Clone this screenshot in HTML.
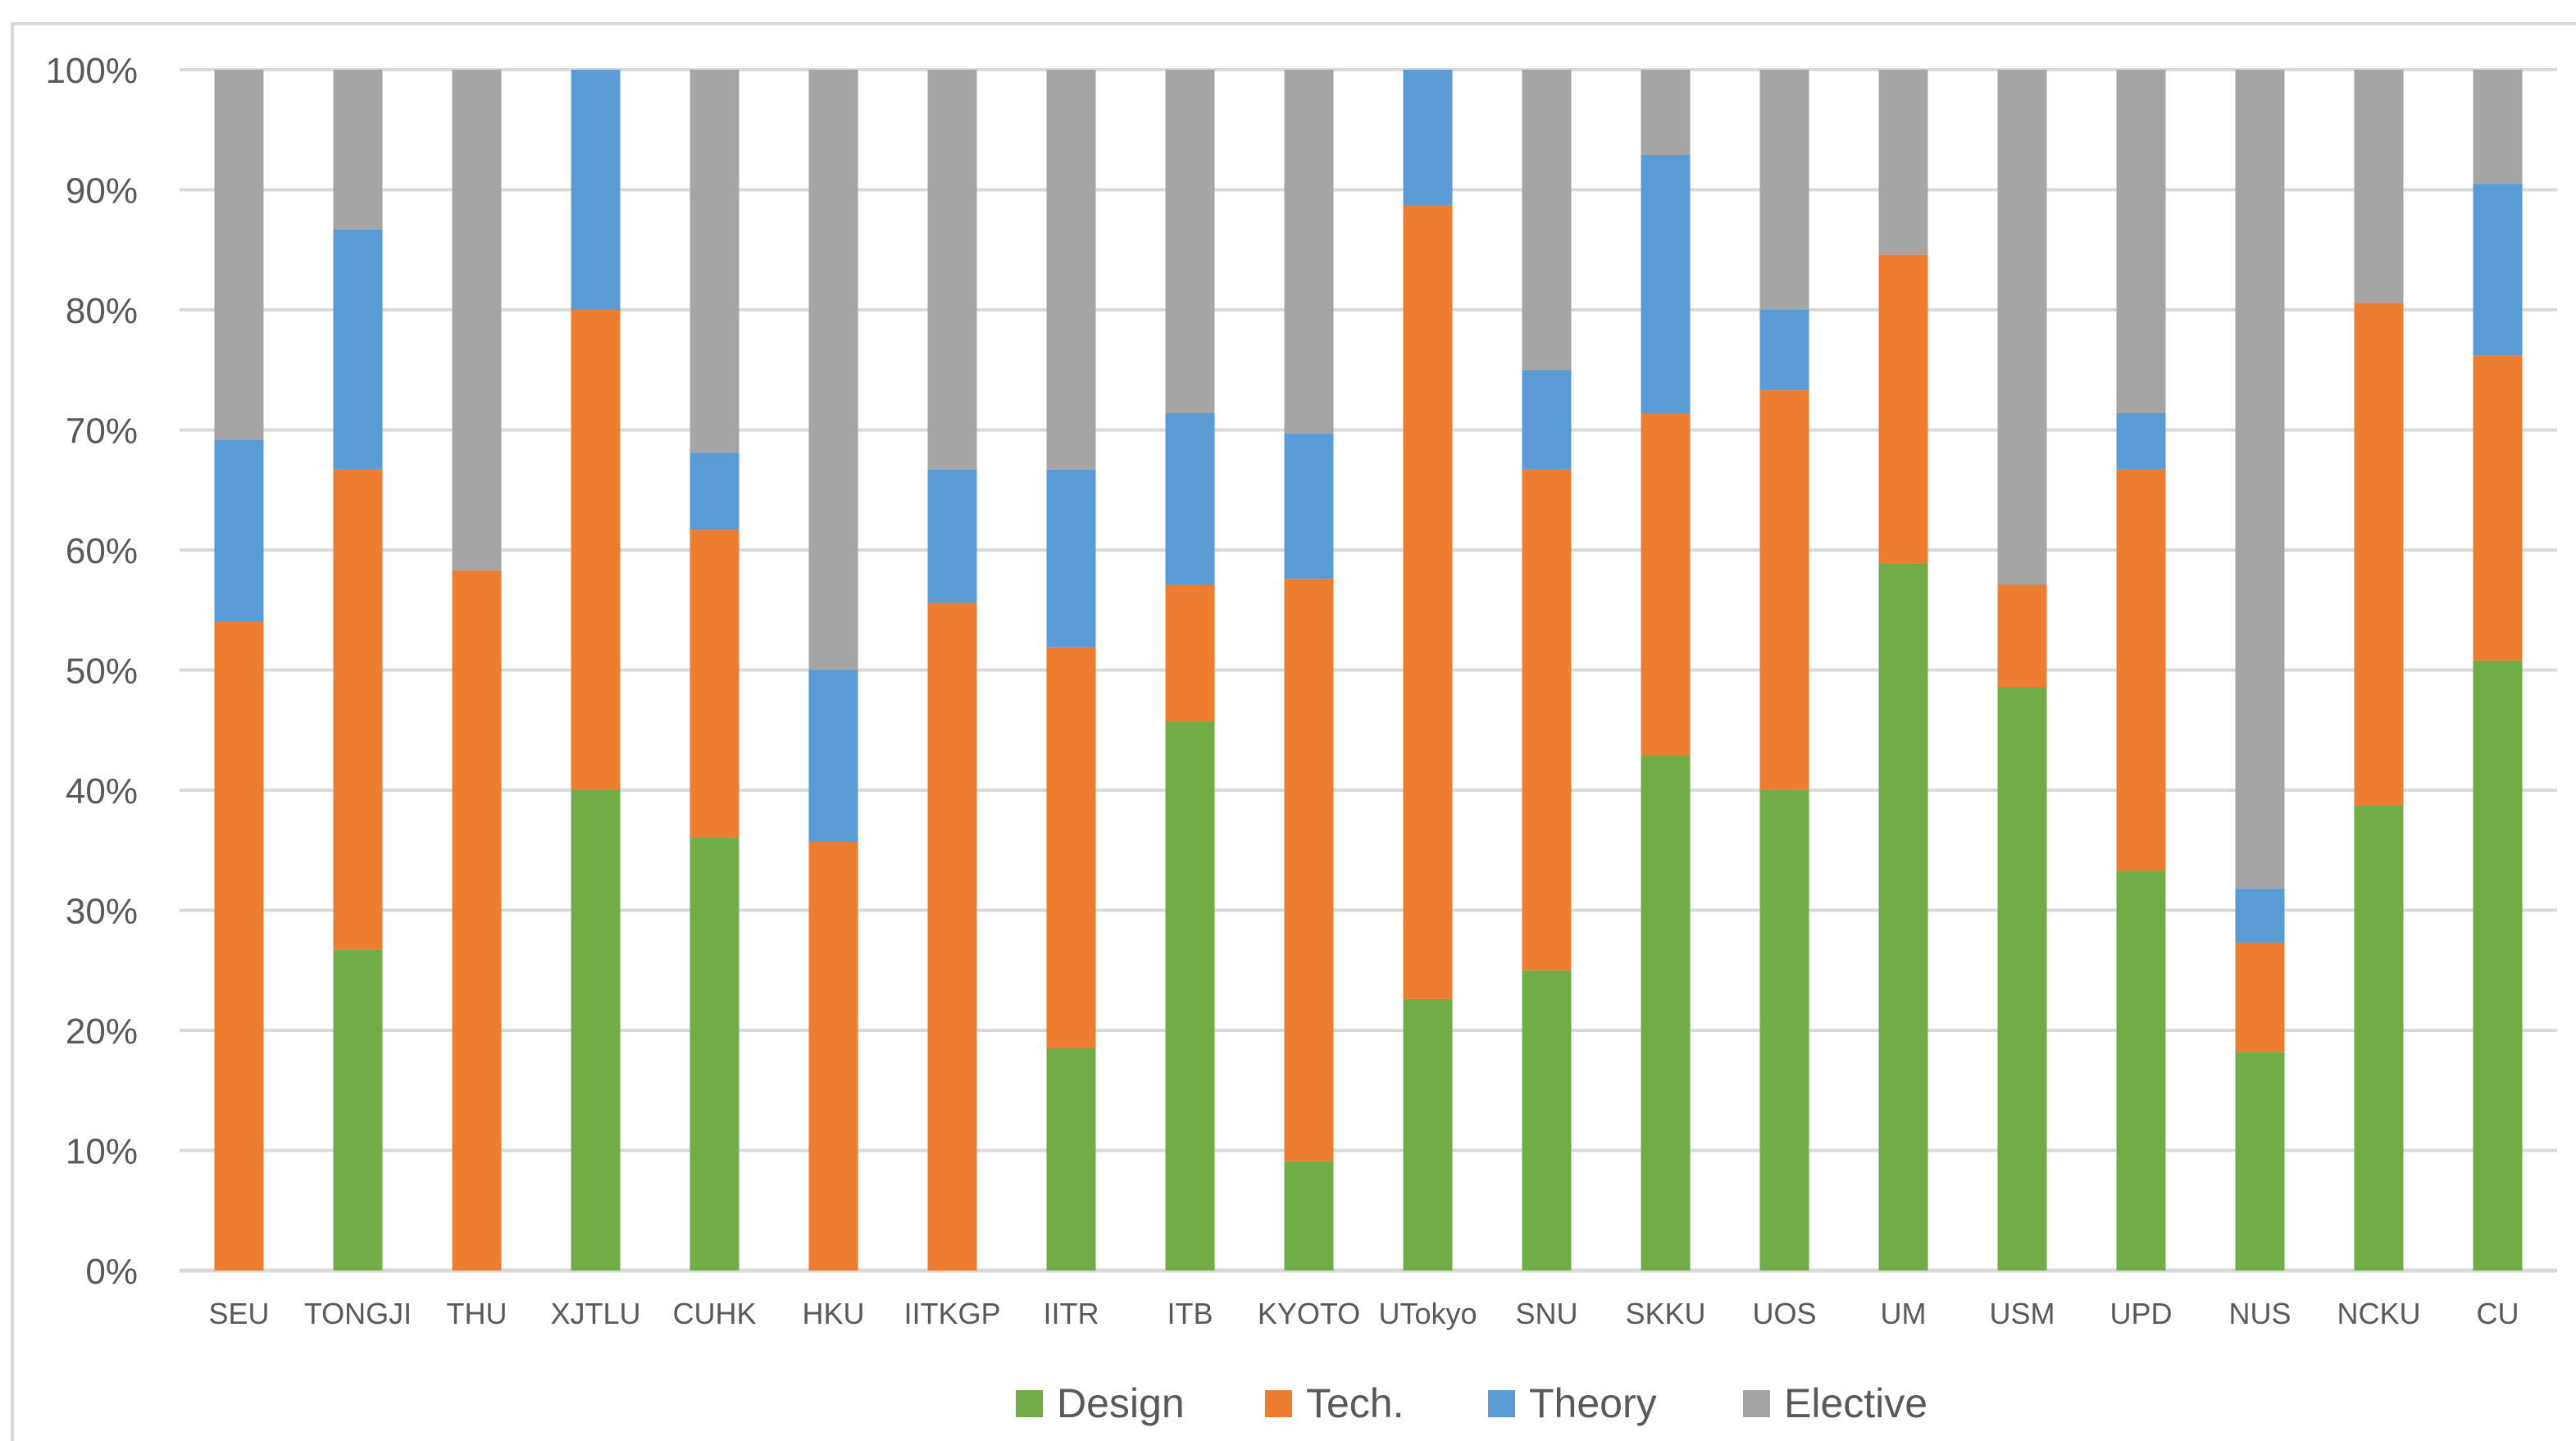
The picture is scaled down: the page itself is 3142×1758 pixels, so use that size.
<!DOCTYPE html>
<html><head><meta charset="utf-8"><style>
html,body{margin:0;padding:0;background:#fff;}
svg{display:block;font-family:"Liberation Sans",sans-serif;}
</style></head><body>
<svg id="chart" width="3142" height="1758" xmlns="http://www.w3.org/2000/svg">
<rect x="15" y="29" width="3140" height="1740" fill="#fff" stroke="#d9d9d9" stroke-width="4"/>
<g id="grid"></g><g id="bars"></g><g id="labels"></g><g id="legend"></g>
</svg>
<script>
const categories=["SEU","TONGJI","THU","XJTLU","CUHK","HKU","IITKGP","IITR","ITB","KYOTO","UTokyo","SNU","SKKU","UOS","UM","USM","UPD","NUS","NCKU","CU"];
const design=[0,26.7,0,40,36.1,0,0,18.5,45.7,9.1,22.6,25,42.9,40,58.9,48.6,33.3,18.2,38.7,50.8];
const tech=[54,40,58.3,40,25.6,35.7,55.6,33.4,11.4,48.5,66.1,41.7,28.5,33.3,25.7,8.5,33.4,9.1,41.9,25.4];
const theory=[15.2,20,0,20,6.4,14.3,11.1,14.8,14.3,12.1,11.3,8.3,21.5,6.7,0,0,4.7,4.5,0,14.3];
const elective=[30.8,13.3,41.7,0,31.9,50,33.3,33.3,28.6,30.3,0,25,7.1,20,15.4,42.9,28.6,68.2,19.4,9.5];
const yTicks=[0,10,20,30,40,50,60,70,80,90,100];
const seriesNames=["Design","Tech.","Theory","Elective"];
const colors=["#70ad47","#ed7d31","#5b9bd5","#a5a5a5"];
const NS="http://www.w3.org/2000/svg";
const x0=219,step=145,barW=60,yBase=1550,yTop=85;
const y=v=>yBase-(v/100)*(yBase-yTop);
const xc=i=>x0+step*(i+0.5);
function mk(tag,attrs,parent){const e=document.createElementNS(NS,tag);for(const k in attrs)e.setAttribute(k,attrs[k]);parent.appendChild(e);return e;}
const grid=document.getElementById('grid'),bars=document.getElementById('bars'),labels=document.getElementById('labels'),legend=document.getElementById('legend');
yTicks.forEach(t=>{
  const l=mk('line',{x1:x0,x2:x0+step*categories.length,y1:y(t),y2:y(t),stroke:'#d9d9d9','stroke-width':t===0?5:4},grid);
  
  
  const tx=mk('text',{x:168,y:y(t)+16,'text-anchor':'end','font-size':44,fill:'#595959'},labels);
  tx.textContent=t+'%';
  
  
});
const series=[design,tech,theory,elective];
categories.forEach((c,i)=>{
  let acc=0;
  series.forEach((s,k)=>{
    const v=s[i];if(v<=0)return;
    const r=mk('rect',{x:xc(i)-barW/2,y:y(acc+v),width:barW,height:y(acc)-y(acc+v),fill:colors[k]},bars);
    
    
    acc+=v;
  });
  const t=mk('text',{x:xc(i),y:1615,'text-anchor':'middle','font-size':36,fill:'#595959'},labels);
  t.textContent=c;
  
  
});
const legX=[1239,1543,1815,2126];
seriesNames.forEach((n,k)=>{
  const r=mk('rect',{x:legX[k],y:1696,width:33,height:33,fill:colors[k]},legend);
  
  
  const t=mk('text',{x:legX[k]+50,y:1729,'font-size':50,fill:'#595959'},legend);
  t.textContent=n;
  
  
});
</script>
</body></html>
